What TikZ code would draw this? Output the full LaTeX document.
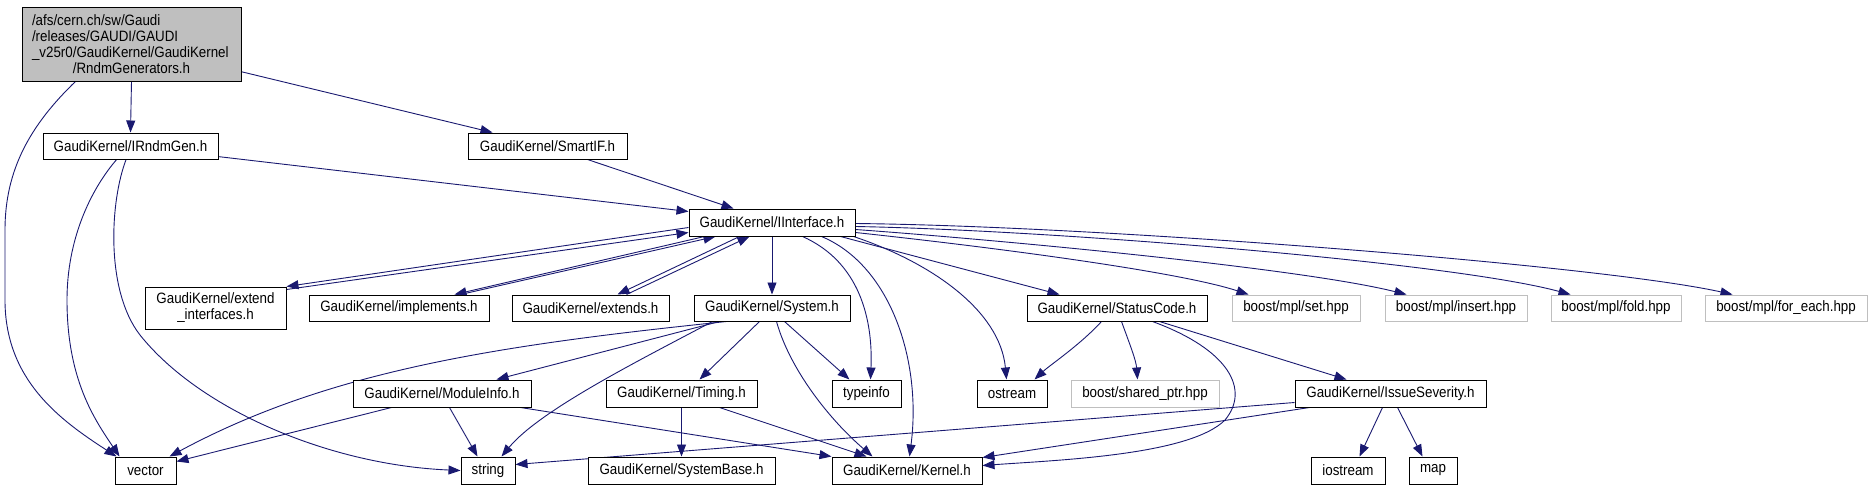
\documentclass[tikz,border=0pt]{standalone}
\usepackage{fontspec}
\setmainfont{Liberation Sans}[FakeStretch=0.89]
\usetikzlibrary{arrows.meta,calc}
\definecolor{edgeblue}{RGB}{25,25,112}
\definecolor{rootgrey}{RGB}{191,191,191}
\definecolor{extgrey}{RGB}{191,191,191}
\pgfdeclarelayer{bg}
\pgfsetlayers{bg,main}
\begin{document}
\begin{tikzpicture}[x=1pt,y=-1pt,
  box/.style={draw=black, fill=white, line width=1pt, inner sep=0pt, minimum height=26pt, align=center, font=\fontsize{15}{16}\selectfont},
  extbox/.style={box, draw=extgrey},
  rootbox/.style={box, fill=rootgrey, text width=199pt, align=left, inner xsep=10pt, minimum height=74pt},
  dep/.style={draw=edgeblue, line width=0.9pt, -{Triangle[length=12pt,width=9pt]}}]
\useasboundingbox (0,0) rectangle (1871,491);
% row 0
\node[rootbox] (root) at (131.5,44) {/afs/cern.ch/sw/Gaudi\\/releases/GAUDI/GAUDI\\\_v25r0/GaudiKernel/GaudiKernel\\\makebox[199pt][c]{/RndmGenerators.h}};
% row 1
\node[box, minimum width=175pt] (irndm) at (130.5,146) {GaudiKernel/IRndmGen.h};
\node[box, minimum width=159pt] (smartif) at (547.5,146) {GaudiKernel/SmartIF.h};
% row 2
\node[box, minimum width=166pt, minimum height=27pt] (iint) at (772,222.5) {GaudiKernel/IInterface.h};
% row 3
\node[box, minimum width=141pt, minimum height=42pt] (extif) at (215.5,308) {GaudiKernel/extend\\\_interfaces.h};
\node[box, minimum width=180pt] (impl) at (399,308) {GaudiKernel/implements.h};
\node[box, minimum width=157pt] (extends) at (590.5,308) {GaudiKernel/extends.h};
\node[box, minimum width=156pt] (system) at (772,308) {GaudiKernel/System.h};
\node[box, minimum width=180pt] (status) at (1117,308) {GaudiKernel/StatusCode.h};
\node[extbox, minimum width=128pt] (set) at (1296,308) {boost/mpl/set.hpp};
\node[extbox, minimum width=142pt] (insert) at (1456,308) {boost/mpl/insert.hpp};
\node[extbox, minimum width=130pt] (fold) at (1616,308) {boost/mpl/fold.hpp};
\node[extbox, minimum width=162pt] (foreach) at (1786,308) {boost/mpl/for\_each.hpp};
% row 4
\node[box, minimum width=178pt, minimum height=27pt] (modinfo) at (442,393.5) {GaudiKernel/ModuleInfo.h};
\node[box, minimum width=151pt, minimum height=27pt] (timing) at (681.5,393.5) {GaudiKernel/Timing.h};
\node[box, minimum width=69pt, minimum height=27pt] (typeinfo) at (866.5,393.5) {typeinfo};
\node[box, minimum width=70pt, minimum height=27pt] (ostream) at (1012,393.5) {ostream};
\node[extbox, minimum width=148pt, minimum height=27pt] (sharedptr) at (1145,393.5) {boost/shared\_ptr.hpp};
\node[box, minimum width=191pt, minimum height=27pt] (issue) at (1390.5,393.5) {GaudiKernel/IssueSeverity.h};
% row 5
\node[box, minimum width=61pt, minimum height=27pt] (vector) at (145.5,470.5) {vector};
\node[box, minimum width=54pt, minimum height=27pt] (string) at (488,470.5) {string};
\node[box, minimum width=187pt, minimum height=27pt] (sysbase) at (681.5,470.5) {GaudiKernel/SystemBase.h};
\node[box, minimum width=150pt, minimum height=27pt] (kernel) at (907,470.5) {GaudiKernel/Kernel.h};
\node[box, minimum width=74pt, minimum height=27pt] (iostream) at (1348,470.5) {iostream};
\node[box, minimum width=48pt, minimum height=27pt] (map) at (1433,470.5) {map};

\begin{pgfonlayer}{bg}
% root
\draw[dep] (root.south) -- (irndm.north);
\draw[dep] ($(root.north west)+(219,65)$) -- ($(smartif.north west)+(25,0)$);
\draw[dep] ($(root.north west)+(55,74)$) .. controls (30,125) and (5,170) .. (5,230) -- (5,300) .. controls (5,380) and (60,420) .. ($(vector.north west)+(2,0)$);
% IRndmGen
\draw[dep] ($(irndm.north west)+(75,26)$) .. controls (90,190) and (67,240) .. (67,300) .. controls (67,380) and (95,420) .. ($(vector.north west)+(5,0)$);
\draw[dep] ($(irndm.north west)+(84,26)$) .. controls (110,200) and (105,290) .. (140,335) .. controls (200,410) and (330,465) .. (string.west);
\draw[dep] ($(irndm.north west)+(175,24)$) -- ($(iint.north west)+(0,3)$);
% SmartIF
\draw[dep] ($(smartif.north west)+(117,26)$) -- ($(iint.north west)+(45,0)$);
% IInterface
\draw[dep] ($(iint.north west)+(0,19)$) -- (extif.north east);
\draw[dep] ($(extif.north east)+(0,3)$) -- ($(iint.north west)+(0,24)$);
\draw[dep] ($(iint.south west)+(16,0)$) -- ($(impl.north west)+(146,0)$);
\draw[dep] ($(impl.north west)+(152,0)$) -- ($(iint.south west)+(27,0)$);
\draw[dep] ($(iint.south west)+(51,0)$) -- ($(extends.north west)+(106,0)$);
\draw[dep] ($(extends.north west)+(115,0)$) -- ($(iint.south west)+(61,0)$);
\draw[dep] (iint.south) -- (system.north);
\draw[dep] ($(iint.south west)+(114,0)$) .. controls (860,262) and (873,320) .. ($(typeinfo.north west)+(39,0)$);
\draw[dep] ($(iint.south west)+(133,0)$) .. controls (890,265) and (922,360) .. ($(kernel.north west)+(78,0)$);
\draw[dep] ($(iint.south east)+(-2,0)$) .. controls (930,262) and (1000,310) .. ($(ostream.north west)+(30,0)$);
\draw[dep] ($(iint.south west)+(152,0)$) -- ($(status.north west)+(33,0)$);
\draw[dep] ($(iint.north east)+(0,24)$) .. controls (1000,248) and (1180,272) .. ($(set.north west)+(17,0)$);
\draw[dep] ($(iint.north east)+(0,21)$) .. controls (1000,240) and (1300,268) .. ($(insert.north west)+(22,0)$);
\draw[dep] ($(iint.north east)+(0,18)$) .. controls (1050,230) and (1450,262) .. ($(fold.north west)+(20,0)$);
\draw[dep] ($(iint.north east)+(0,15)$) .. controls (1100,226) and (1600,265) .. ($(foreach.north west)+(28,0)$);
% System
\draw[dep] ($(system.south west)+(33,0)$) .. controls (500,345) and (330,370) .. ($(vector.north west)+(55,0)$);
\draw[dep] ($(system.south west)+(26,0)$) -- ($(modinfo.north west)+(144,0)$);
\draw[dep] ($(system.south west)+(19,0)$) .. controls (640,360) and (540,410) .. ($(string.north west)+(41,0)$);
\draw[dep] ($(system.south west)+(66,0)$) -- ($(timing.north west)+(94,0)$);
\draw[dep] ($(system.south west)+(91,0)$) -- ($(typeinfo.north west)+(18,0)$);
\draw[dep] ($(system.south west)+(83,0)$) .. controls (790,370) and (830,420) .. ($(kernel.north west)+(41,0)$);
% ModuleInfo
\draw[dep] ($(modinfo.south west)+(39,0)$) -- ($(vector.north east)+(0,5)$);
\draw[dep] ($(modinfo.south west)+(97,0)$) -- ($(string.north west)+(17,0)$);
\draw[dep] ($(modinfo.south east)+(-11,0)$) -- (kernel.north west);
% Timing
\draw[dep] (timing.south) -- (sysbase.north);
\draw[dep] ($(timing.south west)+(114,0)$) -- ($(kernel.north west)+(35,0)$);
% StatusCode
\draw[dep] ($(status.south west)+(75,0)$) .. controls (1080,345) and (1050,365) .. ($(ostream.north west)+(58,0)$);
\draw[dep] ($(status.south west)+(95,0)$) .. controls (1130,345) and (1136,360) .. ($(sharedptr.north west)+(67,0)$);
\draw[dep] ($(status.south west)+(126,0)$) .. controls (1230,350) and (1250,390) .. (1225,420) .. controls (1190,455) and (1060,460) .. ($(kernel.north east)+(0,9)$);
\draw[dep] ($(status.south west)+(133,0)$) -- ($(issue.north west)+(52,0)$);
% IssueSeverity
\draw[dep] ($(issue.north west)+(0,23)$) -- ($(string.north east)+(0,8)$);
\draw[dep] ($(issue.south west)+(15,0)$) -- ($(kernel.north east)+(0,1)$);
\draw[dep] ($(issue.south west)+(88,0)$) -- ($(iostream.north west)+(49,0)$);
\draw[dep] ($(issue.south west)+(103,0)$) -- ($(map.north west)+(14,0)$);
\end{pgfonlayer}
\end{tikzpicture}
\end{document}
